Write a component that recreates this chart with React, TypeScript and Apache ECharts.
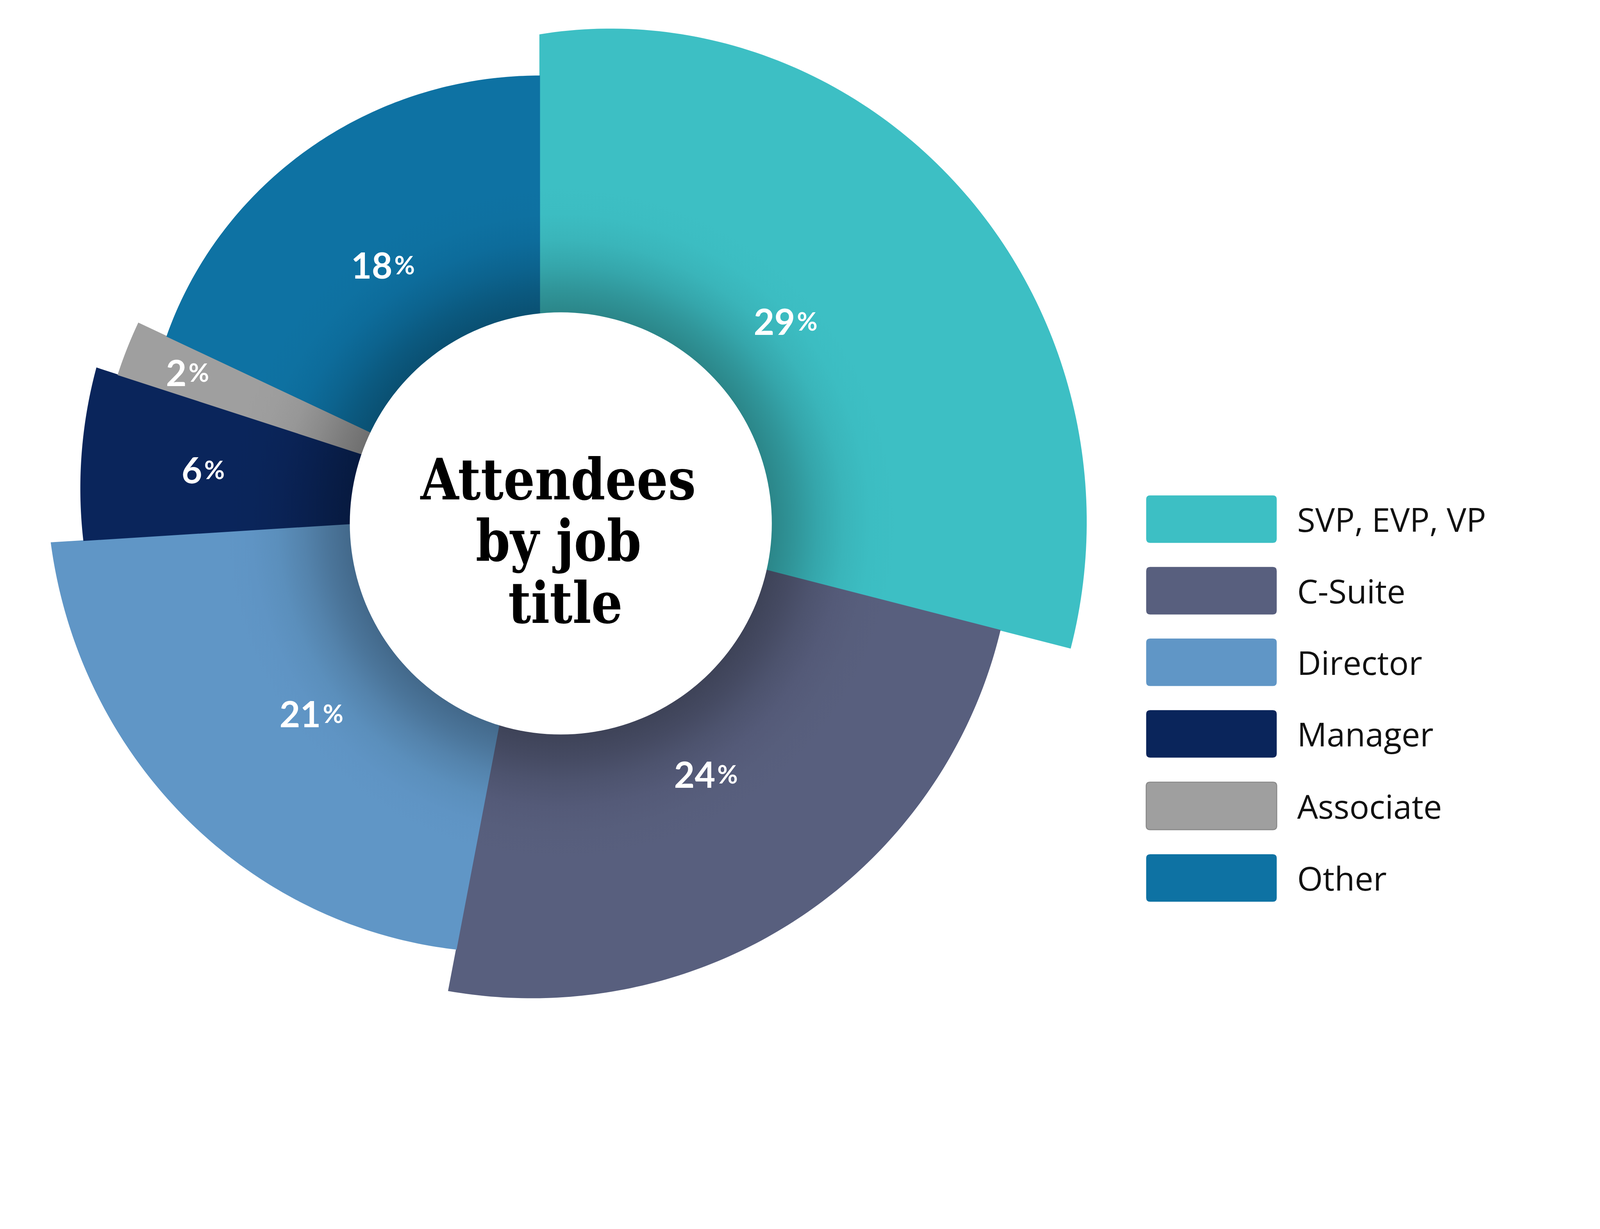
import React, { useEffect, useRef } from 'react';
import * as echarts from 'echarts';

// job titles, clockwise from 12 o'clock
const categories = ['SVP, EVP, VP', 'C-Suite', 'Director', 'Manager', 'Associate', 'Other'];
const shares = [29, 24, 21, 6, 2, 18];
const colors = ['#3dbfc4', '#585f7e', '#6096c6', '#0a255b', '#9f9f9f', '#0e72a3'];

// outer edge of each slice: radius at its first / last angle and how it bends in between
// (all sizes in px of a 4853 x 3145 design, scaled to the real chart size)
const outerStart = [1447, 1442, 1350, 1386, 1345, 1250];
const outerEnd = [1662, 1478, 1485, 1413, 1345, 1322];
const outerEase = [2, 1, 1, 1, 1, 2];
const labelRadius = [944, 941, 923, 1029, 1149, 887];

const DESIGN_W = 4853;
const DESIGN_H = 3145;
const CX = 1637;
const CY = 1552;
const HOLE = { x: 1701, y: 1587, r: 640 };

const total = shares.reduce((a, b) => a + b, 0);
const starts = shares.map((_, i) => shares.slice(0, i).reduce((a, b) => a + b, 0));

const shade = (hex: string, k: number) => {
  const n = parseInt(hex.slice(1), 16);
  const r = Math.round(((n >> 16) & 255) * (1 - k));
  const g = Math.round(((n >> 8) & 255) * (1 - k));
  const b = Math.round((n & 255) * (1 - k));
  return `rgb(${r},${g},${b})`;
};

const buildOption = (s: number) => {
  const u = (v: number) => v * s;

  // dark halo round the white hole
  const halo = (c: string) => {
    const R = HOLE.r + 380;
    const at = (d: number) => (HOLE.r + d) / R;
    return new echarts.graphic.RadialGradient(
      u(HOLE.x),
      u(HOLE.y),
      u(R),
      [
        { offset: 0, color: shade(c, 0.3) },
        { offset: at(0), color: shade(c, 0.3) },
        { offset: at(70), color: shade(c, 0.22) },
        { offset: at(140), color: shade(c, 0.13) },
        { offset: at(220), color: shade(c, 0.05) },
        { offset: at(300), color: shade(c, 0.012) },
        { offset: 1, color: c },
      ],
      true
    );
  };

  return {
    animation: false,
    backgroundColor: '#ffffff',
    legend: {
      orient: 'vertical',
      left: u(3475),
      top: u(1502),
      padding: 0,
      itemWidth: u(396),
      itemHeight: u(144),
      itemGap: u(73),
      selectedMode: false,
      icon: 'path://M12,0H384Q396,0 396,12V132Q396,144 384,144H12Q0,144 0,132V12Q0,0 12,0Z',
      data: categories.map((name) =>
        name === 'Associate'
          ? { name, itemStyle: { borderColor: '#8a8a8a', borderWidth: u(3) } }
          : { name }
      ),
      textStyle: {
        fontFamily: '"Open Sans", sans-serif',
        fontSize: u(100),
        color: '#111111',
        padding: [0, 0, 0, u(56)],
      },
    },
    series: categories.map((name, i) => ({
      type: 'custom',
      name,
      coordinateSystem: 'none',
      itemStyle: { color: colors[i] },
      data: [shares[i]],
      renderItem: (_params: any, api: any) => {
        const v = api.value(0);
        const a0 = (starts[i] / total) * Math.PI * 2;
        const a1 = a0 + (v / total) * Math.PI * 2;
        const steps = 120;
        const points: number[][] = [[u(CX), u(CY)]];
        for (let k = 0; k <= steps; k++) {
          const t = k / steps;
          const a = a0 + (a1 - a0) * t;
          const e = 1 - Math.pow(1 - t, outerEase[i]);
          const r = outerStart[i] + (outerEnd[i] - outerStart[i]) * e;
          points.push([u(CX + r * Math.sin(a)), u(CY - r * Math.cos(a))]);
        }
        const mid = (a0 + a1) / 2;
        const lr = labelRadius[i];
        const fill = halo(colors[i]);
        return {
          type: 'group',
          children: [
            {
              type: 'polygon',
              shape: { points },
              style: { fill, stroke: fill, lineWidth: u(2) },
            },
            {
              type: 'text',
              x: u(CX + lr * Math.sin(mid)),
              y: u(CY - lr * Math.cos(mid)),
              z2: 10,
              style: {
                text: `{n|${v}}{p|%}`,
                align: 'center',
                verticalAlign: 'middle',
                rich: {
                  n: {
                    fontFamily: 'Lato, sans-serif',
                    fontWeight: 'bold',
                    fontSize: u(108),
                    fill: '#ffffff',
                  },
                  p: {
                    fontFamily: 'Lato, sans-serif',
                    fontWeight: 'bold',
                    fontSize: u(76),
                    padding: [0, 0, 0, u(6)],
                    fill: '#ffffff',
                  },
                },
              },
            },
          ],
        };
      },
    })),
    graphic: [
      {
        type: 'circle',
        z: 100,
        shape: { cx: u(HOLE.x), cy: u(HOLE.y), r: u(HOLE.r) },
        style: { fill: '#ffffff' },
      },
      ...[
        { text: 'Attendees', x: 1693, y: 1453 },
        { text: 'by job', x: 1694, y: 1639 },
        { text: 'title', x: 1715, y: 1828 },
      ].map((line) => ({
        type: 'text',
        z: 101,
        x: u(line.x),
        y: u(line.y),
        scaleX: 0.87,
        style: {
          text: line.text,
          fontFamily: '"DejaVu Serif", serif',
          fontWeight: 'bold',
          fontSize: u(172),
          fill: '#000000',
          align: 'center',
          verticalAlign: 'middle',
        },
      })),
    ],
  };
};

const App: React.FC = () => {
  const chartRef = useRef<HTMLDivElement>(null);

  useEffect(() => {
    if (!chartRef.current) return;
    const chart = echarts.init(chartRef.current, undefined, { renderer: 'svg' });
    const s = Math.min(chart.getWidth() / DESIGN_W, chart.getHeight() / DESIGN_H);
    chart.setOption(buildOption(s));

    return () => {
      chart.dispose();
    };
  }, []);

  return (
    <div
      ref={chartRef}
      style={{ position: 'fixed', left: 0, top: 0, width: '100vw', height: '100vh' }}
    />
  );
};

export default App;
